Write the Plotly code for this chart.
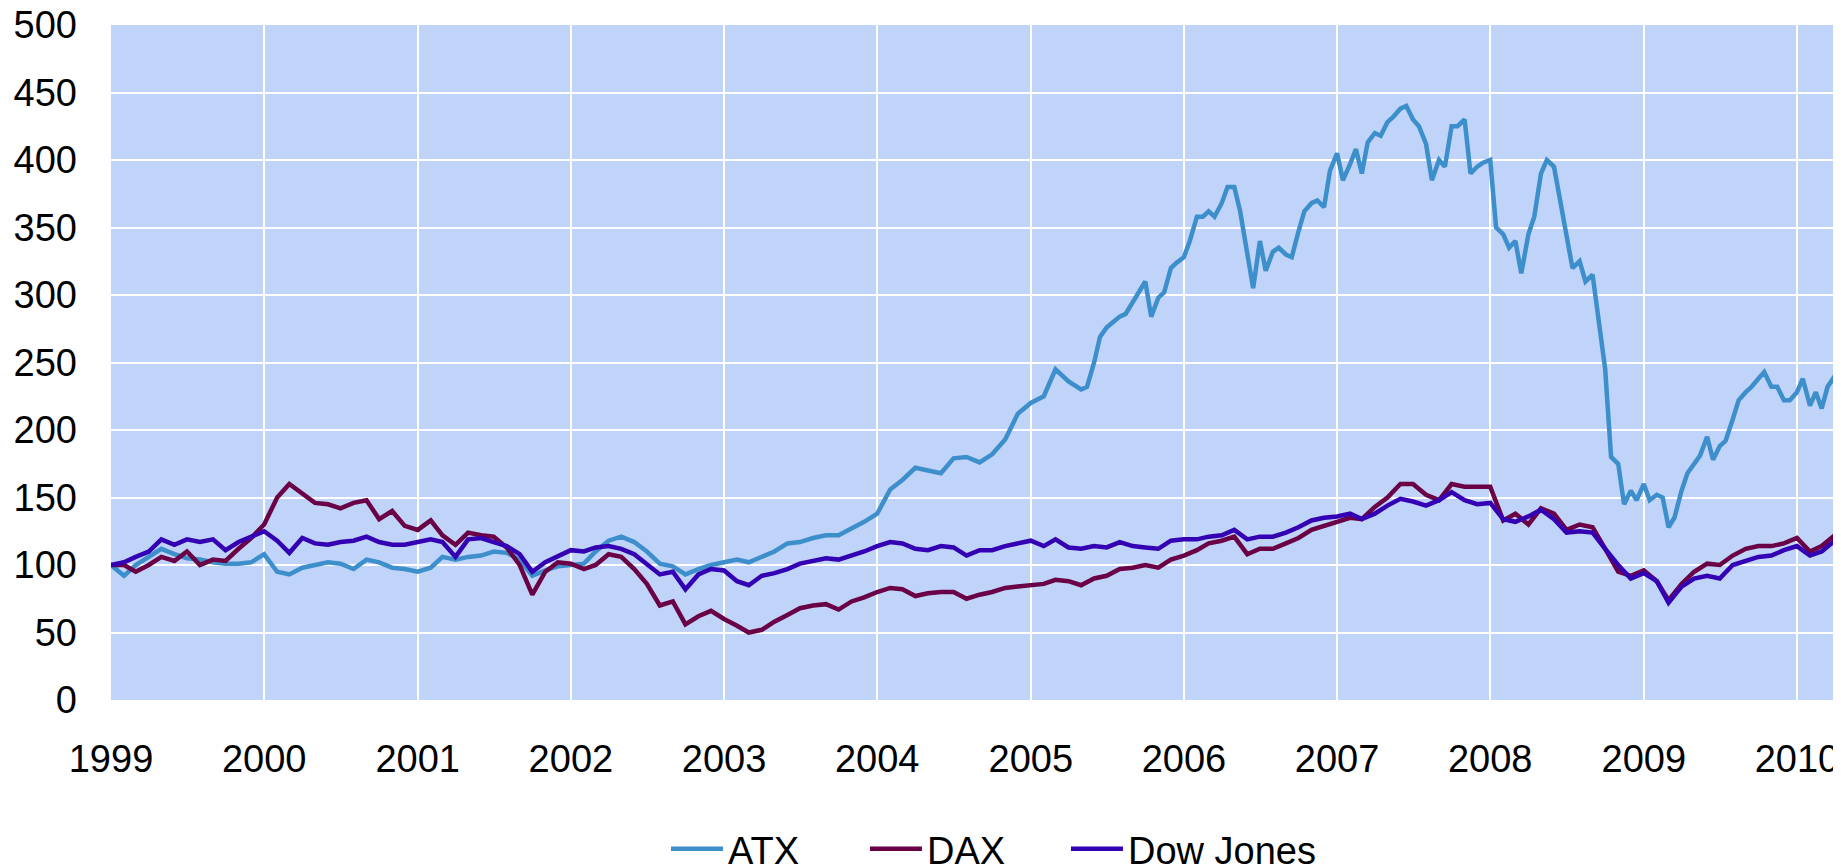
import pandas as pd
import plotly.graph_objects as go


# DAX and Dow Jones: first of each month, Jan 1999 .. Apr 2010, plus the last day shown
dates = list(pd.date_range("1999-01-01", "2010-04-01", freq="MS")) + [pd.Timestamp("2010-04-15")]

# ATX is read monthly up to Apr 2005 and twice a month after that (it moves a lot more)
atx_dates = (
    list(pd.date_range("1999-01-01", "2005-04-01", freq="MS"))
    + list(pd.date_range("2005-05-01", "2010-04-01", freq="SMS"))
    + [pd.Timestamp("2010-04-15")]
)

atx = [
    100, 92, 100, 106, 112, 108, 105, 104, 102, 101, 101, 102,
    108, 95, 93, 98, 100, 102, 101, 97, 104, 102, 98, 97,
    95, 98, 106, 104, 106, 107, 110, 109, 104, 92, 96, 99,
    100, 101, 110, 118, 121, 117, 110, 101, 99, 93, 97, 100,
    102, 104, 102, 106, 110, 116, 117, 120, 122, 122, 127, 132,
    138, 156, 163, 172, 170, 168, 179, 180, 176, 182, 193, 212,
    220, 225, 245, 236,
    # 2005-05 onwards, two readings a month
    230, 232, 250, 269, 276, 280, 284, 286, 295, 302, 310, 284,
    298, 302, 320, 324,
    328, 340, 358, 358, 362, 358, 368, 380, 380, 362, 330, 305,
    340, 318, 332, 335, 330, 328, 347, 362, 368, 370, 365, 392,
    405, 385, 397, 408, 390, 413, 420, 418, 428, 432, 438, 440,
    430, 425, 412, 385, 400, 395, 425, 425, 430, 390, 395, 398,
    400, 350, 345, 335, 340, 316, 345, 358, 390, 400, 395, 370,
    345, 320, 325, 310, 315, 285, 245, 180, 175, 145, 155, 148,
    160, 148, 152, 150, 128, 135, 155, 168, 175, 181, 195, 178,
    188, 192, 208, 222, 228, 232, 238, 243, 232, 232, 222, 222,
    228, 238, 218, 228, 216, 232, 240,
    250,
]

dax = [
    100, 100, 95, 100, 106, 103, 110, 100, 104, 103, 112, 120,
    130, 150, 160, 153, 146, 145, 142, 146, 148, 134, 140, 129,
    126, 133, 122, 115, 124, 122, 121, 113, 100, 78, 95, 102,
    101, 97, 100, 108, 106, 97, 86, 70, 73, 56, 62, 66,
    60, 55, 50, 52, 58, 63, 68, 70, 71, 67, 73, 76,
    80, 83, 82, 77, 79, 80, 80, 75, 78, 80, 83, 84,
    85, 86, 89, 88, 85, 90, 92, 97, 98, 100, 98, 104,
    107, 111, 116, 118, 121, 108, 112, 112, 116, 120, 126, 129,
    132, 135, 134, 143, 150, 160, 160, 152, 148, 160, 158, 158,
    158, 133, 138, 130, 142, 138, 126, 130, 128, 112, 95, 92,
    96, 88, 74, 86, 95, 101, 100, 107, 112, 114, 114, 116,
    120, 110, 114, 122, 125,
]

dow = [
    100, 102, 106, 110, 119, 115, 119, 117, 119, 111, 117, 121,
    125, 118, 109, 120, 116, 115, 117, 118, 121, 117, 115, 115,
    117, 119, 117, 106, 119, 120, 117, 114, 108, 95, 102, 106,
    111, 110, 113, 114, 112, 108, 101, 93, 95, 82, 93, 97,
    96, 88, 85, 92, 94, 97, 101, 103, 105, 104, 107, 110,
    114, 117, 116, 112, 111, 114, 113, 107, 111, 111, 114, 116,
    118, 114, 119, 113, 112, 114, 113, 117, 114, 113, 112, 118,
    119, 119, 121, 122, 126, 119, 121, 121, 124, 128, 133, 135,
    136, 138, 134, 138, 144, 149, 147, 144, 148, 154, 148, 145,
    146, 134, 132, 136, 141, 134, 124, 125, 124, 112, 100, 90,
    94, 88, 72, 84, 90, 92, 90, 100, 103, 106, 107, 111,
    114, 107, 110, 118, 120,
]

series = [
    ("ATX", atx_dates, atx, "#3D8FCC", "legend"),
    ("DAX", dates, dax, "#6A0045", "legend2"),
    ("Dow Jones", dates, dow, "#3300B4", "legend3"),
]

fig = go.Figure()
for name, xs, vals, col, leg in series:
    fig.add_trace(go.Scatter(
        x=xs, y=vals, name=name, mode="lines",
        line=dict(color=col, width=4.5),
        legend=leg,
    ))

legend_font = dict(family="Liberation Sans, Arial, sans-serif", size=38, color="black")
legend_common = dict(
    orientation="h", xanchor="left", y=-0.2207, yanchor="middle",
    font=legend_font, bgcolor="rgba(0,0,0,0)", borderwidth=0,
    itemwidth=52,
)

# the page body adds an 8px margin, so the figure is shifted by 8px
fig.update_layout(
    width=1833, height=874,
    margin=dict(l=103, r=0, t=17, b=182),
    paper_bgcolor="white",
    plot_bgcolor="#C0D3F8",
    font=dict(family="Liberation Sans, Arial, sans-serif", size=38, color="black"),
    showlegend=True,
    legend=dict(x=0.3208, **legend_common),
    legend2=dict(x=0.4358, **legend_common),
    legend3=dict(x=0.5520, **legend_common),
)

fig.update_xaxes(
    type="date",
    range=["1999-01-01", "2010-04-16"],
    dtick="M12", tick0="1999-01-01", tickformat="%Y",
    showgrid=True, gridcolor="white", gridwidth=2,
    showline=False, zeroline=False,
    ticks="", ticklabelstandoff=33,
    ticklabeloverflow="allow",
    automargin=False,
)
fig.update_yaxes(
    range=[0, 500], dtick=50,
    showgrid=True, gridcolor="white", gridwidth=2,
    showline=False, zeroline=False,
    ticks="", ticklabelstandoff=33,
    ticklabeloverflow="allow",
    automargin=False,
)

fig.write_html("out.html")
